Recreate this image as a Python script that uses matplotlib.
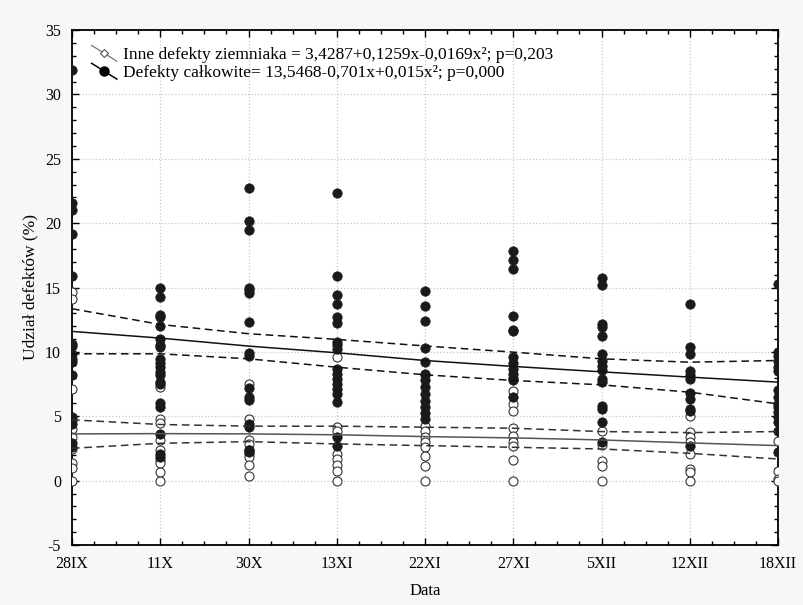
import matplotlib
matplotlib.use("Agg")
import matplotlib.pyplot as plt
from matplotlib.legend_handler import HandlerBase
from matplotlib.lines import Line2D
from matplotlib.ticker import MultipleLocator
import numpy as np

plt.rcParams["font.family"] = ["Liberation Serif", "DejaVu Serif"]
plt.rcParams["axes.unicode_minus"] = False

dates = ["28IX", "11X", "30X", "13XI", "22XI", "27XI", "5XII", "12XII", "18XII"]

# Defekty całkowite (filled points), one list per date
total_points = [
    [31.9, 21.57, 21.0, 19.13, 15.9, 10.63, 10.42, 9.85, 9.46, 9.2, 8.17, 4.98, 4.72, 4.41, 2.9, 2.59],
    [14.96, 14.26, 12.83, 12.7, 11.98, 11.02, 10.55, 10.4, 9.46, 9.13, 8.81, 8.42, 8.17, 7.65, 7.52,
     6.01, 5.75, 3.63, 2.07, 1.87],
    [22.76, 20.17, 19.5, 14.98, 14.8, 14.6, 12.32, 9.9, 9.7, 7.2, 6.48, 6.27, 4.41, 4.15, 2.39, 2.2],
    [22.35, 15.87, 14.39, 13.74, 12.7, 12.24, 10.76, 10.5, 10.24, 8.68, 8.3, 7.91, 7.52, 7.13, 6.75,
     6.09, 3.37, 2.72],
    [14.73, 13.56, 12.39, 10.32, 9.23, 8.3, 7.83, 7.26, 6.75, 6.22, 5.7, 5.24, 4.8],
    [17.81, 17.11, 16.46, 12.76, 11.72, 11.6, 9.59, 9.13, 8.68, 8.3, 7.98, 7.78, 6.48],
    [15.74, 15.17, 12.19, 11.93, 11.2, 9.85, 9.33, 8.94, 8.56, 7.91, 7.65, 5.76, 5.57, 4.54, 2.98],
    [13.74, 10.37, 9.85, 8.5, 8.17, 7.91, 6.79, 6.35, 5.57, 5.44, 2.72],
    [15.3, 9.98, 9.65, 9.33, 8.81, 8.55, 7.05, 6.48, 5.96, 5.7, 5.31, 4.93, 4.54, 3.89, 2.2],
]

# Inne defekty ziemniaka (open points)
other_points = [
    [14.65, 14.13, 7.13, 4.02, 3.37, 2.46, 1.35, 0.99, 0.0],
    [7.26, 4.8, 4.46, 3.16, 2.39, 1.61, 1.35, 0.65, 0.0],
    [7.47, 4.8, 3.16, 2.85, 2.39, 2.07, 1.81, 1.24, 0.39],
    [9.59, 4.2, 3.89, 2.07, 1.68, 1.24, 0.78, 0.0],
    [8.17, 4.28, 3.89, 3.37, 2.98, 2.59, 1.94, 1.17, 0.0],
    [7.0, 5.96, 5.44, 4.1, 3.5, 2.98, 2.72, 1.61, 0.0],
    [3.89, 2.8, 1.5, 1.17, 0.0],
    [5.05, 3.76, 3.37, 2.98, 2.07, 0.91, 0.65, 0.0],
    [3.11, 0.78, 0.1, 0.0],
]

# fitted curves and 95% bands, read at each date
total_fit = [11.59, 11.07, 10.45, 9.93, 9.33, 8.87, 8.45, 8.04, 7.65]
total_upper = [13.35, 12.13, 11.41, 10.97, 10.46, 9.98, 9.46, 9.2, 9.33]
total_lower = [9.85, 9.85, 9.46, 8.81, 8.22, 7.78, 7.44, 6.87, 5.96]

other_fit = [3.63, 3.65, 3.63, 3.56, 3.42, 3.32, 3.16, 2.93, 2.72]
other_upper = [4.72, 4.36, 4.23, 4.23, 4.15, 4.07, 3.81, 3.73, 3.81]
other_lower = [2.51, 2.9, 3.03, 2.85, 2.72, 2.59, 2.46, 2.12, 1.68]

label_other = "Inne defekty ziemniaka = 3,4287+0,1259x-0,0169x²; p=0,203"
label_total = "Defekty całkowite= 13,5468-0,701x+0,015x²; p=0,000"


class DiagonalHandler(HandlerBase):
    # Statistica-style legend key: short falling line with the marker in the middle
    def create_artists(self, legend, orig_handle, xdescent, ydescent, width, height, fontsize, trans):
        x0, x1 = -xdescent, width - xdescent
        y0, y1 = height * 1.15 - ydescent, -ydescent - height * 0.15
        line = Line2D([x0, x1], [y0, y1], color=orig_handle.get_color(),
                      lw=orig_handle.get_linewidth(), transform=trans)
        mark = Line2D([(x0 + x1) / 2], [(y0 + y1) / 2], marker=orig_handle.get_marker(),
                      markersize=orig_handle.get_markersize(),
                      markerfacecolor=orig_handle.get_markerfacecolor(),
                      markeredgecolor=orig_handle.get_markeredgecolor(),
                      markeredgewidth=orig_handle.get_markeredgewidth(),
                      linestyle="none", transform=trans)
        return [line, mark]


x = np.arange(len(dates))

fig = plt.figure(figsize=(8.04, 6.05), dpi=100, facecolor="#f7f7f7")
ax = fig.add_axes([72 / 804, 1 - 545 / 605, 706 / 804, 515 / 605])
ax.set_facecolor("white")

ox = np.concatenate([np.full(len(v), i) for i, v in enumerate(other_points)])
oy = np.concatenate(other_points)
tx = np.concatenate([np.full(len(v), i) for i, v in enumerate(total_points)])
ty = np.concatenate(total_points)

ax.scatter(ox, oy, s=42, facecolors="white", edgecolors="#333333", linewidths=0.8, zorder=3)
ax.scatter(tx, ty, s=46, c="#1a1a1a", edgecolors="#1a1a1a", linewidths=0.5, zorder=4)

dash = (0, (5, 3))
ax.plot(x, total_fit, color="#111111", lw=1.1, zorder=5)
ax.plot(x, total_upper, color="#111111", lw=1.1, ls=dash, zorder=5)
ax.plot(x, total_lower, color="#111111", lw=1.1, ls=dash, zorder=5)
ax.plot(x, other_fit, color="#555555", lw=1.1, zorder=5)
ax.plot(x, other_upper, color="#333333", lw=1.1, ls=dash, zorder=5)
ax.plot(x, other_lower, color="#333333", lw=1.1, ls=dash, zorder=5)

ax.set_xlim(0, len(dates) - 1)
ax.set_ylim(-5, 35)
ax.set_xticks(x)
ax.set_xticklabels(dates)
ax.xaxis.set_minor_locator(MultipleLocator(0.25))
ax.set_yticks(np.arange(-5, 36, 5))
ax.yaxis.set_minor_locator(MultipleLocator(1))
ax.tick_params(which="both", direction="in", top=True, right=True, labelsize=11.5, width=1)
ax.tick_params(which="major", length=5, pad=8)
ax.tick_params(which="minor", length=3)
ax.grid(True, which="major", color="#c8c8c8", ls=":", lw=0.9, zorder=0)
ax.set_axisbelow(True)
for sp in ax.spines.values():
    sp.set_linewidth(1.3)
    sp.set_color("black")

ax.set_xlabel("Data", fontsize=12, labelpad=8)
ax.set_ylabel("Udział defektów (%)", fontsize=12.5, labelpad=5)

h_other = Line2D([], [], color="#777777", lw=0.9, marker="D", markersize=4,
                 markerfacecolor="white", markeredgecolor="#555555", markeredgewidth=0.8)
h_total = Line2D([], [], color="black", lw=1.1, marker="o", markersize=6.5,
                 markerfacecolor="black", markeredgecolor="black")
ax.legend([h_other, h_total], [label_other, label_total], loc="upper left",
          bbox_to_anchor=(0.018, 0.98), borderaxespad=0, frameon=False, fontsize=12.5,
          handlelength=1.45, handletextpad=0.35, labelspacing=0.1,
          handler_map={Line2D: DiagonalHandler()})

fig.savefig("out.png", dpi=100, facecolor=fig.get_facecolor())
